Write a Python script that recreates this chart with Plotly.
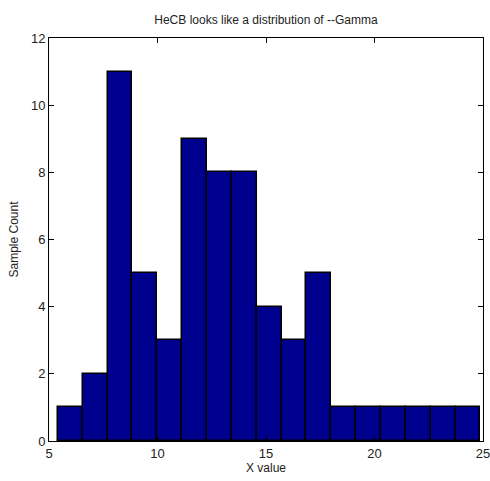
import plotly.graph_objects as go

# Histogram data
counts = [1, 2, 11, 5, 3, 9, 8, 8, 4, 3, 5, 1, 1, 1, 1, 1, 1]
bin_start = 5.41
bin_end = 24.88
x_ticks = [5, 10, 15, 20, 25]
y_ticks = [0, 2, 4, 6, 8, 10, 12]

n = len(counts)
w = (bin_end - bin_start) / n
centers = [bin_start + w * (i + 0.5) for i in range(n)]

fig = go.Figure(go.Bar(
    x=centers, y=counts, width=[w] * n,
    marker=dict(color="#00008F", line=dict(color="black", width=1.5)),
))

font = dict(family="Liberation Sans, Arial, sans-serif", size=12, color="#222")
tfont = dict(family="Liberation Sans, Arial, sans-serif", size=13, color="#222")
axis_common = dict(
    showline=True, linecolor="black", linewidth=1, mirror="allticks",
    ticks="inside", ticklen=5, tickcolor="black", showgrid=False, zeroline=False,
    tickfont=tfont, automargin=False, ticklabeloverflow="allow",
)
fig.update_layout(
    width=490, height=481,
    margin=dict(l=48.5, r=7, t=38, b=40, autoexpand=False),
    plot_bgcolor="white", paper_bgcolor="white",
    font=font,
    showlegend=False,
    bargap=0,
    title=dict(text="HeCB looks like a distribution of --Gamma", x=0.5, xref="paper",
               y=1 - 20 / 481, yanchor="middle", font=font),
    xaxis=dict(range=[5, 25], tickvals=x_ticks, title=dict(text="X value", font=font, standoff=4),
               **axis_common),
    yaxis=dict(range=[0, 12], tickvals=y_ticks, title=dict(text="Sample Count", font=font, standoff=9),
               **axis_common),
)

fig.write_html("out.html")
